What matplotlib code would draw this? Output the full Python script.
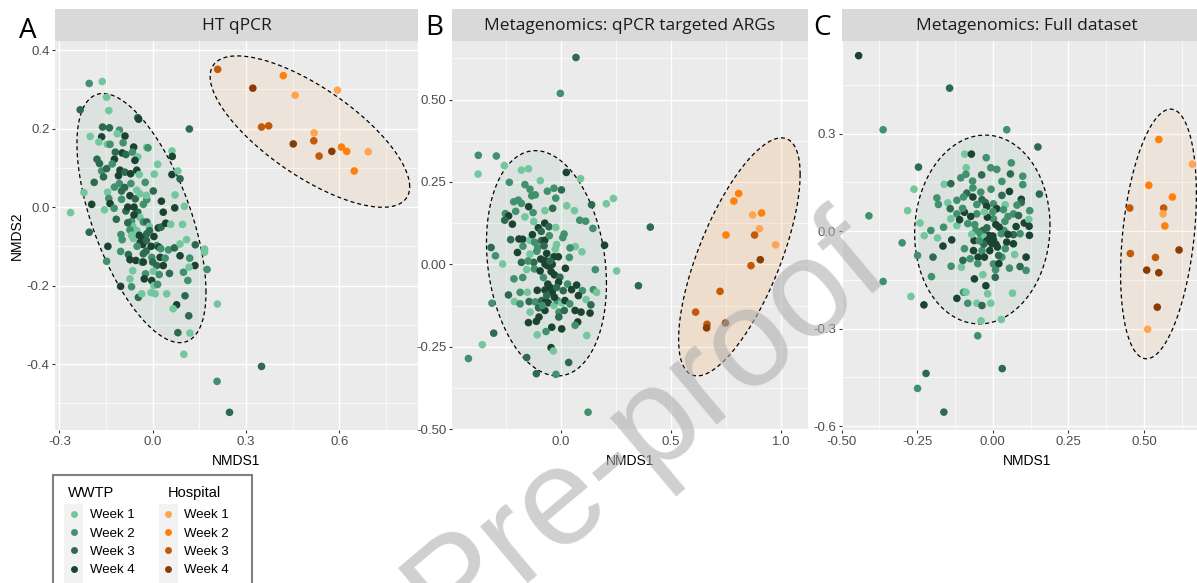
import numpy as np
import matplotlib.pyplot as plt
from matplotlib.lines import Line2D
from matplotlib.patches import Rectangle, Polygon

plt.rcParams['axes.unicode_minus'] = False

weeks = ['Week 1', 'Week 2', 'Week 3', 'Week 4']
wwtp_colors = ['#74C69D', '#40916C', '#2D6A4F', '#1B4332']
hosp_colors = ['#FFA552', '#FF7F0A', '#C35A0A', '#8A3C04']

panel_titles = ['HT qPCR', 'Metagenomics: qPCR targeted ARGs', 'Metagenomics: Full dataset']
panel_letters = ['A', 'B', 'C']

# NMDS scores: columns NMDS1, NMDS2, week
htq_wwtp = np.array([
    (-0.204, 0.315, 2), (-0.162, 0.320, 1), (-0.148, 0.280, 1), (-0.233, 0.248, 3), (-0.141, 0.246, 1),
    (-0.201, 0.180, 1), (-0.161, 0.204, 3), (-0.139, 0.202, 3), (-0.107, 0.196, 2), (-0.114, 0.187, 1),
    (-0.089, 0.181, 4), (-0.048, 0.228, 3), (-0.045, 0.224, 4), (0.118, 0.199, 3), (-0.164, 0.179, 4),
    (-0.173, 0.166, 1), (-0.146, 0.160, 1), (-0.137, 0.160, 2), (-0.095, 0.164, 2), (-0.061, 0.153, 4),
    (-0.019, 0.152, 1), (-0.015, 0.151, 2), (-0.098, 0.138, 4), (-0.086, 0.134, 3), (-0.179, 0.122, 3),
    (-0.171, 0.111, 3), (-0.123, 0.122, 4), (-0.065, 0.140, 2), (-0.048, 0.128, 1), (-0.057, 0.119, 4),
    (0.062, 0.143, 1), (0.063, 0.129, 4), (0.016, 0.109, 1), (-0.164, 0.092, 2), (-0.148, 0.098, 3),
    (-0.158, 0.077, 3), (-0.105, 0.094, 4), (-0.089, 0.089, 3), (-0.071, 0.085, 4), (-0.051, 0.094, 4),
    (-0.043, 0.083, 1), (0.005, 0.084, 1), (-0.024, 0.063, 2), (0.062, 0.083, 4), (0.081, 0.092, 1),
    (0.088, 0.072, 3), (-0.221, 0.037, 1), (-0.196, 0.007, 4), (-0.188, 0.063, 3), (-0.145, 0.038, 1),
    (-0.141, 0.022, 2), (-0.137, 0.009, 4), (-0.123, 0.051, 2), (-0.107, 0.060, 2), (-0.100, 0.041, 3),
    (-0.073, 0.029, 4), (-0.056, 0.021, 3), (-0.051, 0.043, 1), (-0.041, 0.034, 1), (-0.019, 0.019, 2),
    (-0.030, 0.007, 2), (0.002, 0.041, 3), (0.028, 0.015, 4), (0.034, -0.013, 4), (0.072, 0.031, 1),
    (0.071, -0.002, 4), (0.102, 0.002, 1), (-0.264, -0.014, 1), (-0.155, -0.007, 1), (-0.124, -0.003, 2),
    (-0.117, -0.031, 3), (-0.086, -0.010, 3), (-0.068, -0.036, 2), (-0.048, -0.013, 3), (-0.041, -0.026, 1),
    (-0.064, -0.049, 1), (-0.051, -0.060, 1), (-0.030, -0.038, 2), (-0.019, -0.038, 3), (-0.011, -0.049, 1),
    (0.018, -0.053, 4), (0.027, -0.051, 3), (0.042, -0.041, 4), (0.058, -0.044, 1), (0.096, -0.044, 1),
    (-0.204, -0.064, 3), (-0.144, -0.100, 4), (-0.102, -0.070, 2), (-0.098, -0.083, 2), (-0.073, -0.058, 2),
    (-0.068, -0.072, 1), (-0.062, -0.080, 1), (-0.043, -0.072, 4), (-0.035, -0.078, 4), (-0.027, -0.083, 4),
    (-0.019, -0.068, 3), (0.004, -0.075, 4), (0.013, -0.098, 2), (0.020, -0.102, 4), (0.026, -0.106, 2),
    (0.051, -0.109, 2), (0.070, -0.104, 3), (0.088, -0.094, 1), (0.109, -0.083, 1), (0.137, -0.096, 3),
    (0.088, -0.124, 4), (0.119, -0.130, 2), (0.167, -0.107, 1), (0.167, -0.115, 1), (0.175, -0.159, 2),
    (0.136, -0.149, 4), (-0.148, -0.138, 2), (-0.103, -0.113, 2), (-0.078, -0.121, 3), (-0.073, -0.134, 4),
    (-0.054, -0.136, 4), (-0.021, -0.112, 3), (-0.035, -0.140, 2), (-0.030, -0.119, 3), (-0.003, -0.128, 2),
    (0.024, -0.128, 4), (0.013, -0.149, 3), (0.034, -0.149, 4), (0.054, -0.169, 3), (-0.064, -0.162, 1),
    (-0.073, -0.183, 1), (-0.023, -0.170, 2), (-0.027, -0.183, 4), (0.002, -0.163, 1), (-0.003, -0.187, 4),
    (0.021, -0.172, 2), (0.099, -0.166, 2), (0.113, -0.187, 2), (0.117, -0.153, 1), (-0.068, -0.203, 2),
    (-0.103, -0.202, 4), (0.004, -0.200, 1), (0.016, -0.197, 2), (-0.005, -0.218, 1), (0.045, -0.221, 1),
    (0.104, -0.226, 3), (-0.046, -0.230, 3), (-0.035, -0.221, 1), (0.008, -0.221, 1), (0.077, -0.249, 4),
    (0.066, -0.259, 1), (0.116, -0.277, 3), (0.081, -0.320, 3), (0.120, -0.321, 1), (0.208, -0.247, 1),
    (0.100, -0.375, 1), (0.350, -0.406, 3), (0.207, -0.444, 2), (0.247, -0.523, 3),
    # overlapping points in the dense core
    (-0.040, -0.090, 4), (-0.032, -0.095, 4), (-0.020, -0.085, 3), (-0.050, -0.100, 2), (-0.010, -0.060, 3),
    (-0.060, -0.020, 4), (-0.080, 0.000, 4), (-0.090, 0.050, 3), (-0.070, 0.060, 2), (-0.110, 0.080, 4),
    (-0.120, 0.140, 3), (-0.130, 0.110, 2), (-0.030, -0.140, 4), (0.000, -0.140, 3), (0.040, -0.130, 2),
    (-0.020, 0.030, 1), (-0.100, 0.020, 2), (-0.060, 0.000, 4), (-0.080, -0.040, 3), (-0.005, -0.100, 4),
])
htq_hosp = np.array([
    (0.209, 0.351, 3), (0.420, 0.335, 2), (0.322, 0.303, 4), (0.458, 0.285, 1), (0.594, 0.298, 1),
    (0.350, 0.204, 3), (0.373, 0.207, 3), (0.519, 0.189, 1), (0.452, 0.161, 4), (0.518, 0.169, 3),
    (0.535, 0.130, 3), (0.576, 0.142, 4), (0.607, 0.153, 2), (0.624, 0.142, 2), (0.693, 0.141, 1),
    (0.648, 0.092, 2),
])

mgq_wwtp = np.array([
    (0.068, 0.628, 3), (-0.003, 0.519, 2), (-0.376, 0.331, 2), (-0.294, 0.329, 2), (-0.377, 0.274, 1),
    (-0.258, 0.300, 1), (-0.180, 0.286, 1), (-0.148, 0.290, 1), (0.024, 0.279, 4), (0.089, 0.260, 1),
    (-0.094, 0.254, 1), (-0.235, 0.249, 2), (-0.164, 0.242, 2), (-0.141, 0.228, 2), (-0.117, 0.211, 2),
    (-0.133, 0.208, 2), (-0.062, 0.222, 2), (-0.032, 0.231, 2), (0.002, 0.226, 3), (-0.024, 0.201, 2),
    (0.139, 0.181, 3), (0.206, 0.184, 1), (0.238, 0.200, 1), (-0.215, 0.190, 2), (-0.194, 0.195, 2),
    (-0.180, 0.185, 2), (-0.147, 0.175, 4), (-0.127, 0.157, 2), (-0.073, 0.163, 1), (-0.038, 0.170, 3),
    (0.026, 0.178, 1), (0.061, 0.163, 1), (-0.253, 0.154, 2), (-0.238, 0.147, 4), (-0.206, 0.161, 2),
    (-0.164, 0.144, 1), (-0.256, 0.134, 3), (-0.221, 0.122, 4), (-0.124, 0.130, 1), (-0.103, 0.111, 4),
    (-0.074, 0.125, 4), (-0.055, 0.114, 3), (-0.024, 0.112, 1), (0.014, 0.092, 2), (0.008, 0.081, 2),
    (0.085, 0.134, 2), (0.112, 0.131, 2), (0.145, 0.109, 2), (0.406, 0.113, 3), (0.198, 0.058, 4),
    (-0.318, 0.051, 3), (-0.229, 0.075, 3), (-0.191, 0.077, 4), (-0.174, 0.076, 4), (-0.141, 0.073, 1),
    (-0.120, 0.067, 2), (-0.089, 0.072, 3), (-0.074, 0.073, 4), (-0.053, 0.087, 2), (-0.173, 0.055, 2),
    (-0.106, 0.051, 2), (-0.077, 0.056, 3), (-0.026, 0.046, 1), (0.065, 0.054, 1), (0.095, 0.038, 1),
    (0.041, 0.050, 2), (-0.298, 0.026, 2), (-0.265, 0.001, 1), (-0.198, 0.036, 4), (-0.141, 0.031, 1),
    (-0.180, 0.006, 3), (-0.124, 0.006, 3), (-0.092, 0.016, 4), (-0.065, 0.033, 4), (-0.062, -0.004, 4),
    (-0.032, 0.023, 4), (-0.012, 0.023, 4), (-0.073, 0.001, 4), (-0.071, 0.011, 4), (0.038, 0.021, 2),
    (0.156, -0.016, 2), (0.253, -0.020, 1), (0.352, -0.065, 3), (-0.156, -0.016, 1), (-0.121, -0.014, 2),
    (-0.174, -0.040, 2), (-0.214, -0.044, 2), (-0.239, -0.093, 3), (-0.153, -0.085, 1), (-0.108, -0.079, 4),
    (-0.073, -0.078, 4), (-0.045, -0.022, 4), (-0.030, -0.032, 4), (-0.005, -0.039, 3), (0.020, -0.012, 4),
    (-0.011, -0.054, 4), (0.030, -0.060, 2), (0.071, -0.063, 4), (0.048, -0.077, 4), (0.097, -0.080, 2),
    (0.147, -0.077, 2), (0.162, -0.085, 1), (-0.186, -0.085, 2), (-0.314, -0.118, 2), (-0.212, -0.113, 1),
    (-0.186, -0.120, 2), (-0.145, -0.113, 3), (-0.140, -0.145, 1), (-0.117, -0.114, 2), (-0.088, -0.110, 3),
    (-0.071, -0.114, 4), (-0.102, -0.132, 3), (-0.073, -0.140, 4), (-0.058, -0.117, 4), (-0.032, -0.125, 1),
    (-0.017, -0.110, 2), (-0.009, -0.145, 2), (0.003, -0.117, 1), (0.018, -0.110, 4), (0.015, -0.140, 3),
    (0.064, -0.140, 4), (0.079, -0.095, 4), (0.091, -0.145, 4), (0.114, -0.107, 1), (0.136, -0.123, 3),
    (0.132, -0.148, 4), (-0.148, -0.177, 4), (-0.112, -0.173, 4), (-0.042, -0.191, 4), (0.003, -0.196, 4),
    (-0.068, -0.204, 2), (-0.108, -0.214, 1), (0.076, -0.175, 4), (0.064, -0.185, 2), (0.117, -0.216, 1),
    (-0.306, -0.209, 3), (-0.358, -0.244, 1), (-0.421, -0.286, 2), (-0.045, -0.253, 4), (-0.035, -0.263, 1),
    (-0.156, -0.283, 3), (0.035, -0.298, 3), (-0.112, -0.332, 3), (-0.023, -0.334, 2), (0.123, -0.449, 2),
    # overlapping points in the dense core
    (-0.060, -0.060, 4), (-0.050, -0.070, 4), (-0.040, -0.085, 4), (-0.065, -0.095, 3), (-0.030, -0.100, 4),
    (-0.020, -0.070, 3), (-0.080, -0.040, 2), (-0.095, -0.020, 4), (-0.040, 0.000, 4), (-0.050, 0.010, 3),
    (-0.110, 0.040, 2), (-0.090, 0.100, 3), (-0.130, 0.090, 4), (-0.010, -0.160, 3), (0.040, -0.120, 2),
    (-0.100, -0.160, 4), (-0.020, 0.060, 1), (-0.150, 0.010, 2), (0.010, -0.080, 3), (-0.085, -0.125, 2),
])
mgq_hosp = np.array([
    (0.808, 0.215, 2), (0.786, 0.192, 2), (0.912, 0.156, 2), (0.871, 0.150, 1), (0.750, 0.089, 2),
    (0.902, 0.108, 1), (0.880, 0.089, 3), (0.976, 0.059, 1), (0.906, 0.014, 4), (0.864, -0.004, 3),
    (0.723, -0.082, 3), (0.612, -0.145, 3), (0.664, -0.182, 3), (0.662, -0.193, 4), (0.748, -0.178, 4),
])

mgf_wwtp = np.array([
    (-0.444, 0.540, 4), (-0.143, 0.440, 3), (-0.363, 0.312, 2), (0.046, 0.312, 2), (0.149, 0.259, 3),
    (-0.410, 0.047, 2), (-0.246, 0.197, 3), (-0.261, 0.129, 1), (-0.282, 0.063, 1), (-0.300, -0.036, 2),
    (-0.249, -0.075, 2), (-0.363, -0.155, 2), (-0.271, -0.201, 1), (-0.203, -0.140, 2), (-0.198, -0.080, 3),
    (-0.241, 0.025, 1), (-0.227, -0.014, 1), (-0.205, 0.002, 2), (-0.183, -0.021, 1), (-0.185, 0.102, 2),
    (-0.180, 0.082, 2), (-0.161, 0.144, 1), (-0.139, 0.146, 3), (-0.149, 0.087, 1), (-0.141, 0.069, 3),
    (-0.163, 0.012, 2), (-0.165, -0.046, 4), (-0.136, -0.027, 4), (-0.138, -0.108, 2), (-0.104, -0.111, 1),
    (-0.119, 0.053, 2), (-0.119, 0.017, 1), (-0.110, 0.035, 4), (-0.093, 0.237, 1), (-0.071, 0.237, 4),
    (-0.088, 0.195, 1), (-0.106, 0.164, 2), (-0.089, 0.175, 2), (-0.067, 0.154, 2), (-0.037, 0.173, 3),
    (-0.022, 0.226, 2), (-0.007, 0.195, 2), (0.013, 0.190, 2), (0.061, 0.210, 2), (0.058, 0.176, 3),
    (0.030, 0.153, 2), (0.099, 0.169, 2), (0.099, 0.143, 2), (0.154, 0.114, 3), (0.094, 0.098, 4),
    (0.094, 0.088, 3), (0.122, 0.063, 2), (0.055, 0.122, 4), (-0.006, 0.129, 2), (-0.066, 0.133, 2),
    (-0.086, 0.117, 3), (-0.097, 0.105, 2), (-0.066, 0.105, 4), (-0.119, 0.095, 2), (-0.025, 0.088, 3),
    (-0.036, 0.097, 3), (-0.053, 0.082, 2), (-0.020, 0.076, 4), (0.002, 0.084, 2), (0.013, 0.069, 4),
    (0.041, 0.081, 1), (0.035, 0.066, 2), (0.050, 0.045, 2), (0.068, 0.053, 2), (0.085, 0.048, 3),
    (0.104, 0.025, 4), (0.119, 0.036, 1), (0.120, 0.015, 4), (0.077, 0.014, 4), (0.090, -0.008, 2),
    (0.121, -0.013, 4), (0.068, -0.011, 3), (0.037, 0.002, 2), (0.021, 0.012, 4), (0.002, 0.038, 2),
    (-0.018, 0.043, 4), (-0.028, 0.059, 1), (-0.053, 0.053, 2), (-0.073, 0.045, 4), (-0.094, 0.058, 4),
    (-0.139, 0.038, 1), (-0.083, 0.023, 2), (-0.056, 0.002, 2), (-0.033, 0.002, 3), (-0.042, -0.008, 2),
    (-0.014, -0.013, 4), (-0.003, -0.039, 4), (0.002, -0.027, 4), (0.015, -0.049, 4), (-0.028, -0.019, 1),
    (-0.062, -0.029, 4), (-0.064, -0.060, 4), (-0.036, -0.060, 2), (-0.049, -0.080, 4), (-0.028, -0.080, 4),
    (-0.094, -0.054, 2), (-0.075, -0.085, 2), (-0.099, -0.090, 3), (0.028, -0.008, 2), (0.046, -0.034, 4),
    (0.041, -0.054, 2), (0.068, -0.039, 4), (0.030, -0.080, 2), (0.019, -0.075, 3), (0.002, -0.101, 2),
    (0.009, -0.119, 2), (0.055, -0.114, 2), (0.090, -0.109, 3), (0.110, -0.080, 4), (0.110, -0.121, 2),
    (0.072, -0.072, 1), (-0.061, -0.147, 4), (-0.033, -0.134, 1), (0.008, -0.142, 3), (-0.023, -0.168, 4),
    (-0.119, -0.207, 4), (-0.097, -0.188, 2), (-0.089, -0.188, 1), (-0.017, -0.193, 1), (0.065, -0.191, 1),
    (-0.228, -0.227, 4), (-0.083, -0.222, 2), (-0.053, -0.222, 1), (-0.036, -0.229, 3), (-0.007, -0.222, 1),
    (-0.039, -0.276, 1), (0.028, -0.272, 1), (-0.050, -0.322, 2), (0.031, -0.423, 3), (-0.221, -0.438, 3),
    (-0.249, -0.484, 2), (-0.162, -0.557, 3),
    # overlapping points in the dense core
    (-0.010, -0.020, 4), (-0.020, -0.030, 4), (0.000, -0.015, 4), (-0.030, -0.040, 3), (0.010, -0.040, 4),
    (-0.010, -0.060, 4), (-0.045, -0.030, 2), (-0.020, 0.010, 3), (0.010, 0.020, 4), (-0.060, 0.020, 2),
    (0.040, 0.030, 2), (0.050, -0.010, 4), (-0.070, -0.010, 1), (0.000, 0.060, 2), (-0.040, 0.120, 2),
    (0.030, 0.110, 3), (-0.100, 0.070, 2), (0.020, -0.100, 4), (-0.050, -0.100, 2), (0.080, 0.080, 2),
])
mgf_hosp = np.array([
    (0.549, 0.282, 2), (0.660, 0.206, 1), (0.516, 0.141, 2), (0.594, 0.105, 2), (0.453, 0.071, 3),
    (0.565, 0.071, 3), (0.563, 0.053, 1), (0.569, 0.016, 2), (0.455, -0.069, 3), (0.616, -0.058, 4),
    (0.538, -0.081, 3), (0.509, -0.120, 4), (0.549, -0.128, 4), (0.544, -0.234, 4), (0.512, -0.302, 1),
])

# axis limits and ticks per panel
xlims = [(-0.314, 0.853), (-0.497, 1.123), (-0.4995, 0.725)]
ylims = [(-0.568, 0.424), (-0.503, 0.679), (-0.612, 0.586)]
xmajor = [[-0.3, 0.0, 0.3, 0.6], [0.0, 0.5, 1.0], [-0.5, -0.25, 0.0, 0.25, 0.5]]
xlabels = [['-0.3', '0.0', '0.3', '0.6'], ['0.0', '0.5', '1.0'], ['-0.50', '-0.25', '0.00', '0.25', '0.50']]
xminor = [[-0.15, 0.15, 0.45, 0.75], [-0.25, 0.25, 0.75], [-0.375, -0.125, 0.125, 0.375, 0.625]]
ymajor = [[-0.4, -0.2, 0.0, 0.2, 0.4], [-0.5, -0.25, 0.0, 0.25, 0.5], [-0.6, -0.3, 0.0, 0.3]]
ylabels = [['-0.4', '-0.2', '0.0', '0.2', '0.4'], ['-0.50', '-0.25', '0.00', '0.25', '0.50'],
           ['-0.6', '-0.3', '0.0', '0.3']]
yminor = [[-0.5, -0.3, -0.1, 0.1, 0.3], [-0.375, -0.125, 0.125, 0.375, 0.625], [-0.45, -0.15, 0.15, 0.45]]


def cov_trob(xy, nu=5, maxit=25, tol=0.01):
    # port of MASS::cov.trob, which ggplot2's stat_ellipse(type = "t") uses
    n, p = xy.shape
    wt = np.ones(n)
    loc = xy.mean(axis=0)
    w = np.sqrt(wt)
    for _ in range(maxit):
        w0 = w
        X = xy - loc
        _, d, vt = np.linalg.svd(np.sqrt(w / w.sum())[:, None] * X, full_matrices=False)
        wX = X @ vt.T @ np.diag(1 / d)
        Q = (wX ** 2).sum(axis=1)
        w = wt * (nu + p) / (nu + Q)
        loc = (w[:, None] * xy).sum(axis=0) / w.sum()
        if np.all(np.abs(w - w0) < tol):
            break
    sX = np.sqrt(w)[:, None] * X
    return loc, sX.T @ sX / wt.sum()


def ellipse_xy(xy, level=0.95, segments=120):
    center, shape = cov_trob(xy)
    dfd = len(xy) - 1
    qf = dfd / 2 * ((1 - level) ** (-2 / dfd) - 1)  # F(2, dfd) quantile
    radius = np.sqrt(2 * qf)
    t = np.linspace(0, 2 * np.pi, segments + 1)
    circle = np.column_stack([np.cos(t), np.sin(t)])
    L = np.linalg.cholesky(shape)
    return center + radius * circle @ L.T


W, H = 1197, 583
fig = plt.figure(figsize=(11.97, 5.83), dpi=100)

panels_px = [(55, 418), (451.7, 808), (841.7, 1212)]
plot_top, plot_bot, strip_top = 40.7, 430, 9
letter_pos = [(19, 38), (425, 35), (813, 35)]
wwtp_sets = [htq_wwtp, mgq_wwtp, mgf_wwtp]
hosp_sets = [htq_hosp, mgq_hosp, mgf_hosp]
hosp_fill_alpha = [0.07, 0.13, 0.07]

for i in range(3):
    x0, x1 = panels_px[i]
    ax = fig.add_axes([x0 / W, 1 - plot_bot / H, (x1 - x0) / W, (plot_bot - plot_top) / H])
    ax.set_facecolor('#EBEBEB')
    for s in ax.spines.values():
        s.set_visible(False)
    ax.set_xlim(*xlims[i])
    ax.set_ylim(*ylims[i])
    ax.set_xticks(xmajor[i])
    ax.set_xticklabels(xlabels[i])
    ax.set_yticks(ymajor[i])
    ax.set_yticklabels(ylabels[i])
    ax.set_xticks(xminor[i], minor=True)
    ax.set_yticks(yminor[i], minor=True)
    ax.grid(which='major', color='white', lw=1.0)
    ax.grid(which='minor', color='white', lw=0.5)
    ax.set_axisbelow(True)
    ax.tick_params(which='major', length=2.5, width=0.8, color='#333333', pad=1.5,
                   labelsize=9.5, labelcolor='#4D4D4D')
    ax.tick_params(which='minor', length=0)
    for lab in ax.get_xticklabels() + ax.get_yticklabels():
        lab.set_family('Liberation Sans')

    ax.set_xlabel('NMDS1', fontsize=10, family='Liberation Sans')
    ax.xaxis.set_label_coords(0.5, -0.062)
    if i == 0:
        ax.set_ylabel('NMDS2', fontsize=10, family='Liberation Sans')
        ax.yaxis.set_label_coords(-0.086, 0.5)

    # 95% ellipses per source
    for pts, col, fa in [(wwtp_sets[i], wwtp_colors[1], 0.09), (hosp_sets[i], hosp_colors[1], hosp_fill_alpha[i])]:
        e = ellipse_xy(pts[:, :2])
        ax.add_patch(Polygon(e, closed=True, facecolor=col, alpha=fa, edgecolor='none', zorder=2))
        ax.plot(e[:, 0], e[:, 1], color='black', lw=0.9, ls=(0, (3.2, 2.4)), zorder=2.5)

    for pts, cols in [(wwtp_sets[i], wwtp_colors), (hosp_sets[i], hosp_colors)]:
        c = [cols[int(k) - 1] for k in pts[:, 2]]
        ax.scatter(pts[:, 0], pts[:, 1], s=30, c=c, linewidths=0, zorder=3)

    # facet strip
    sax = fig.add_axes([x0 / W, 1 - plot_top / H, (x1 - x0) / W, (plot_top - strip_top) / H])
    sax.set_facecolor('#D9D9D9')
    sax.set_xticks([])
    sax.set_yticks([])
    for s in sax.spines.values():
        s.set_visible(False)
    sax.text(0.5, 0.47, panel_titles[i], ha='center', va='center', fontsize=12.5,
             family='Open Sans', color='#1A1A1A', transform=sax.transAxes)

    lx, ly = letter_pos[i]
    fig.text(lx / W, 1 - ly / H, panel_letters[i], ha='left', va='baseline', fontsize=20,
             family='Open Sans', color='black')

# legend
fig.patches.append(Rectangle((53 / W, -0.02), 199 / W, 1 - 475 / H + 0.02, transform=fig.transFigure,
                             fill=False, edgecolor='#808080', lw=1.5))
for kx in (64, 159):
    fig.patches.append(Rectangle((kx / W, -0.02), 19.3 / W, 1 - 504.3 / H + 0.02, transform=fig.transFigure,
                                 facecolor='#F2F2F2', edgecolor='none'))
for title, cols, tx, lx in [('WWTP', wwtp_colors, 68, 66.5), ('Hospital', hosp_colors, 168, 160.5)]:
    fig.text(tx / W, 1 - 497 / H, title, fontsize=10.5, family='Liberation Sans', va='baseline')
    handles = [Line2D([], [], ls='', marker='o', markersize=5, markerfacecolor=c, markeredgewidth=0)
               for c in cols]
    fig.legend(handles, weeks, loc='upper left', bbox_to_anchor=(lx / W, 1 - 509 / H), frameon=False,
               prop={'family': 'Liberation Sans', 'size': 9.5}, handlelength=1.2, handletextpad=0.6,
               labelspacing=0.46, borderpad=0, borderaxespad=0)

# journal watermark
fig.text(448 / W, 1 - 641 / H, 'Pre-proof', rotation=40, rotation_mode='anchor', ha='left', va='baseline',
         fontsize=100, family='Liberation Sans', color='#B0B0B0', alpha=0.6, zorder=10)

fig.savefig('out.png', dpi=100)
